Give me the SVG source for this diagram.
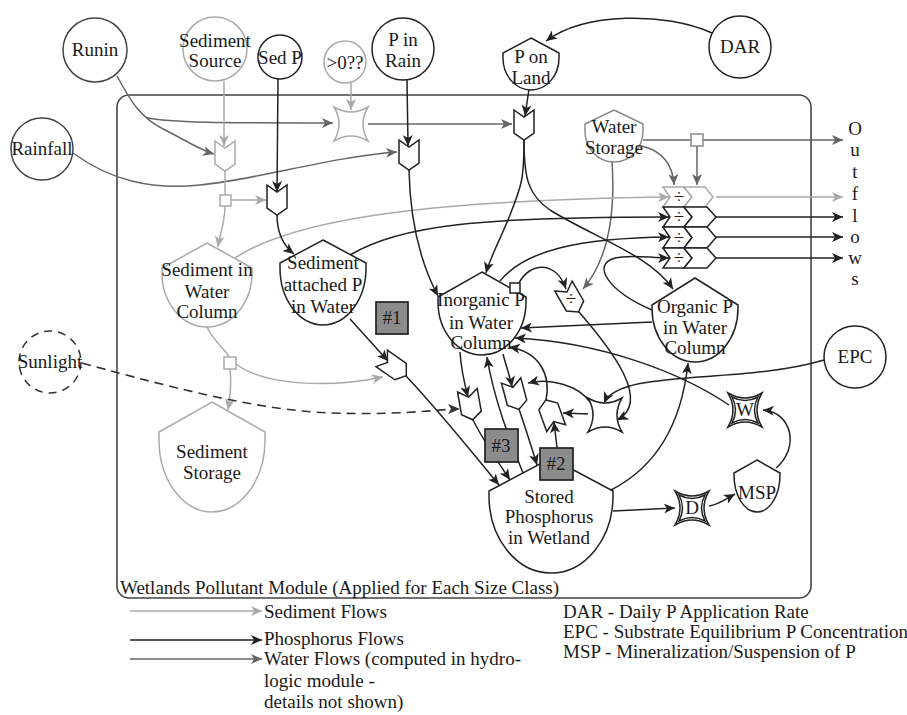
<svg xmlns="http://www.w3.org/2000/svg" width="907" height="715" viewBox="0 0 907 715">
<defs>
<style>
text{font-family:"Liberation Serif","Times New Roman",serif;font-size:19px;fill:#1a1a1a;text-anchor:middle}
.lg{text-anchor:start;font-size:19px}
.k{fill:none;stroke:#222;stroke-width:1.5}
.w{fill:none;stroke:#666;stroke-width:1.5}
.s{fill:none;stroke:#aaa;stroke-width:1.5}
.d{fill:none;stroke:#333;stroke-width:1.6;stroke-dasharray:9,6}
.nk{fill:#fff;stroke:#222;stroke-width:1.5}
.nd{fill:#fff;stroke:#444;stroke-width:1.5}
.ns{fill:#fff;stroke:#aaa;stroke-width:1.5}
.nw{fill:#fff;stroke:#888;stroke-width:1.5}
.box{fill:#8c8c8c;stroke:#222;stroke-width:1.7}
.ak{marker-end:url(#ak)}
.aw{marker-end:url(#aw)}
.as{marker-end:url(#as)}
</style>
<marker id="ak" markerWidth="12" markerHeight="10" refX="11" refY="5" orient="auto" markerUnits="userSpaceOnUse"><path d="M0,0 L11,5 L0,10 L3,5Z" fill="#222"/></marker>
<marker id="aw" markerWidth="12" markerHeight="10" refX="11" refY="5" orient="auto" markerUnits="userSpaceOnUse"><path d="M0,0 L11,5 L0,10 L3,5Z" fill="#666"/></marker>
<marker id="as" markerWidth="12" markerHeight="10" refX="11" refY="5" orient="auto" markerUnits="userSpaceOnUse"><path d="M0,0 L11,5 L0,10 L3,5Z" fill="#aaa"/></marker>
<polygon id="valve" points="-10,-15 0,-8 10,-15 10,8 0,15 -10,8"/>
<path id="star" d="M-17,-17 Q0,-7 17,-17 Q7,0 17,17 Q0,7 -17,17 Q-7,0 -17,-17Z"/>
<path id="star2" d="M-13,-13 Q0,-6 13,-13 Q6,0 13,13 Q0,6 -13,13 Q-6,0 -13,-13Z"/>
</defs>
<rect width="907" height="715" fill="#fff"/>

<g id="frame">
<rect x="117" y="95" width="694" height="503" rx="12" fill="none" stroke="#444" stroke-width="1.6"/>
<text class="lg" x="120" y="594">Wetlands Pollutant Module (Applied for Each Size Class)</text>
</g>

<g id="connectors">
<!-- water -->
<path class="w aw" d="M117,76 C130,100 140,118 165,130 C185,140 200,150 214,154"/>
<path class="w aw" d="M146,117.6 C170,123 220,123 333,123"/>
<path class="w aw" d="M368,124 L512,124"/>
<path class="w aw" d="M73,153 C110,180 150,190 200,185 C260,179 330,157 397,152"/>
<path class="w aw" d="M612,161 C616,220 606,262 583,289"/>
<path class="w aw" d="M643,140 L843,140"/>
<path class="w aw" d="M697,146 L697,185"/>
<path class="w aw" d="M641,146 C662,150 673,165 674,185"/>
<!-- sediment -->
<path class="s as" d="M224,81 L224,146"/>
<path class="s" d="M225,170 L225,195"/>
<path class="s as" d="M231,200 L266,200"/>
<path class="s as" d="M225,206 C225,222 220,234 218,247"/>
<path class="s as" d="M235,258 C300,215 450,200 669,197"/>
<path class="s" d="M207,327 C214,342 226,350 229,357"/>
<path class="s as" d="M230,369 C232,385 230,398 228,410"/>
<path class="s as" d="M236,364 C265,386 330,388 383,377"/>
<path class="s as" d="M351,83 L351,110"/>
<path class="s as" d="M716,197 L843,197"/>
<!-- phosphorus -->
<path class="k ak" d="M278,79 L277,192"/>
<path class="k ak" d="M407,80 L408,146"/>
<path class="k ak" d="M529,89 L525,116"/>
<path class="k ak" d="M712,33 C665,12 585,12 546,41"/>
<path class="k ak" d="M277,215 C277,235 284,246 294,254"/>
<path class="k ak" d="M409,170 C410,220 420,262 438,296"/>
<path class="k ak" d="M524,140 C524,178 522,185 510,215 C500,240 490,258 486,273"/>
<path class="k ak" d="M524,140 C524,178 528,195 550,210 C595,238 650,255 673,289"/>
<path class="k ak" d="M350,255 C400,225 480,217 669,217"/>
<path class="k ak" d="M500,281 C525,250 580,238 669,237"/>
<path class="k ak" d="M652,310 C610,292 590,265 615,258 C630,254 650,258 669,258"/>
<path class="k ak" d="M716,217 L843,217"/>
<path class="k ak" d="M716,237 L843,237"/>
<path class="k ak" d="M716,258 L843,258"/>
<path class="k ak" d="M519,283 C530,262 556,260 566,289"/>
<path class="k ak" d="M350,319 L388,361"/>
<path class="k ak" d="M406,376 C440,412 470,450 499,485"/>
<path class="k ak" d="M460,352 C461,368 464,382 468,397"/>
<path class="k ak" d="M473,420 C483,440 498,462 510,480"/>
<path class="k ak" d="M503,354 C506,366 510,376 512,387"/>
<path class="k ak" d="M519,409 C526,430 532,448 537,465"/>
<path class="k ak" d="M523,473 C510,440 494,400 487,357"/>
<path class="k ak" d="M558,458 C557,445 555,432 554,422"/>
<path class="k ak" d="M546,400 C551,375 540,352 509,347"/>
<path class="k ak" d="M590,402 C578,385 550,378 528,383"/>
<path class="k ak" d="M588,414 L563,413"/>
<path class="k ak" d="M824,360 C740,385 620,368 604,403"/>
<path class="k ak" d="M579,312 C612,350 652,402 617,420"/>
<path class="k ak" d="M652,322 L521,328"/>
<path class="k ak" d="M729,405 C680,372 600,342 515,338"/>
<path class="k ak" d="M776,468 C800,448 792,412 763,410"/>
<path class="k ak" d="M709,506 C718,505 726,499 735,494"/>
<path class="k ak" d="M613,511 L675,508"/>
<path class="k ak" d="M611,490 C660,465 682,420 688,363"/>
<!-- sunlight -->
<path class="d" d="M82,363 C180,390 260,410 330,413 C390,415 430,411 452,409"/>
<path d="M448,404 L460,409 L448,414 L451,409Z" fill="#333"/>
</g>

<g id="runin"><circle class="nd" cx="95" cy="50" r="32"/><text x="95" y="56">Runin</text></g>
<g id="sediment-source"><circle class="ns" cx="215" cy="49" r="32"/><text x="215" y="47">Sediment</text><text x="215" y="67">Source</text></g>
<g id="sed-p"><circle class="nk" cx="280" cy="57" r="22"/><text x="280" y="64">Sed P</text></g>
<g id="gt0"><circle class="ns" cx="345" cy="62" r="21"/><text x="345" y="69">&gt;0??</text></g>
<g id="p-in-rain"><circle class="nk" cx="403" cy="49" r="31"/><text x="403" y="46">P in</text><text x="403" y="67">Rain</text></g>
<g id="p-on-land"><path class="nk" d="M531,38 L559,53 L559,58 A28,32 0 0 1 503,58 L503,53Z"/><text x="531" y="63">P on</text><text x="531" y="84">Land</text></g>
<g id="dar"><circle class="nk" cx="740" cy="47" r="31"/><text x="740" y="53">DAR</text></g>
<g id="rainfall"><circle class="nd" cx="42" cy="149" r="31"/><text x="42" y="155">Rainfall</text></g>
<g id="sunlight"><circle fill="#fff" stroke="#333" stroke-width="1.5" stroke-dasharray="8,6" cx="50" cy="362" r="31"/><text x="50" y="368">Sunlight</text></g>
<g id="epc"><circle class="nk" cx="855" cy="357" r="31"/><text x="855" y="363">EPC</text></g>

<g id="valve-sediment"><use href="#valve" class="ns" transform="translate(225,156)"/></g>
<g id="sq-sediment"><rect class="ns" x="220" y="195" width="11" height="11"/></g>
<g id="valve-sedp"><use href="#valve" class="nk" transform="translate(277,200)"/></g>
<g id="valve-rain"><use href="#valve" class="nk" transform="translate(409,155)"/></g>
<g id="valve-land"><use href="#valve" class="nk" transform="translate(524,125)"/></g>
<g id="star-gt0"><use href="#star" class="ns" transform="translate(351,124)"/></g>

<g id="water-storage"><path class="nw" d="M614,110 L643,124 L643,131 A29,31 0 0 1 585,131 L585,124Z"/><text x="614" y="133">Water</text><text x="614" y="154">Storage</text></g>
<g id="sq-water"><rect class="nw" x="691" y="134" width="12" height="12"/></g>

<g id="divide-stack">
<path class="ns" d="M663,187 L684,187 L692,197 L684,207 L663,207 L670,197Z"/>
<path class="ns" d="M684,187 L705,187 L713,197 L705,207 L684,207 L692,197Z"/>
<path class="nk" d="M663,207 L684,207 L692,217 L684,227 L663,227 L670,217Z"/>
<path class="nk" d="M684,207 L707,207 L716,217 L707,227 L684,227 L692,217Z"/>
<path class="nk" d="M663,227 L684,227 L692,237.5 L684,248 L663,248 L670,237.5Z"/>
<path class="nk" d="M684,227 L707,227 L716,237.5 L707,248 L684,248 L692,237.5Z"/>
<path class="nk" d="M663,248 L684,248 L692,258 L684,268 L663,268 L670,258Z"/>
<path class="nk" d="M684,248 L707,248 L716,258 L707,268 L684,268 L692,258Z"/>
<text x="679" y="203">÷</text><text x="679" y="223">÷</text><text x="679" y="244">÷</text><text x="679" y="264">÷</text>
</g>

<g id="outflows">
<text x="855" y="135">O</text><text x="855" y="156">u</text><text x="855" y="178">t</text><text x="855" y="200">f</text><text x="855" y="222">l</text><text x="855" y="243">o</text><text x="855" y="264">w</text><text x="855" y="285">s</text>
</g>

<g id="sediment-wc"><path class="ns" d="M207,243 L252,268 L252,273 A45,54 0 0 1 162,273 L162,268Z"/><text x="207" y="276">Sediment in</text><text x="207" y="298">Water</text><text x="207" y="318">Column</text></g>
<g id="sq-sediment2"><rect class="ns" x="224" y="357" width="12" height="12"/></g>
<g id="sediment-storage"><path class="ns" d="M212,402 L265,432 L265,440 A53,72 0 0 1 159,440 L159,432Z"/><text x="212" y="458">Sediment</text><text x="212" y="479">Storage</text></g>

<g id="sed-attached-p"><path class="nk" d="M323,240 L366,263 L366,268 A43,57 0 0 1 280,268 L280,263Z"/><text x="323" y="269">Sediment</text><text x="323" y="291">attached P</text><text x="323" y="313">in Water</text></g>
<g id="inorganic-p"><path class="nk" d="M482,272 L526,297 L526,302 A44,53 0 0 1 438,302 L438,297Z"/><text x="481" y="306">Inorganic P</text><text x="481" y="329">in Water</text><text x="481" y="349">Column</text></g>
<g id="sq-inorganic"><rect class="nk" x="510" y="283" width="10" height="10"/></g>
<g id="divide-small"><use href="#valve" class="nk" transform="translate(571,299) rotate(-30)"/><text x="571" y="305">÷</text></g>
<g id="organic-p"><path class="nk" d="M695,278 L738,305 L738,308 A43,54 0 0 1 652,308 L652,305Z"/><text x="695" y="313">Organic P</text><text x="695" y="334">in Water</text><text x="695" y="354">Column</text></g>

<g id="valve-1"><use href="#valve" class="nk" transform="translate(394,367) rotate(-55)"/></g>
<g id="valve-a"><use href="#valve" class="nk" transform="translate(470,405) rotate(-10)"/></g>
<g id="valve-b"><use href="#valve" class="nk" transform="translate(515,395) rotate(-15)"/></g>
<g id="valve-c"><use href="#valve" class="nk" transform="translate(551,414) rotate(160)"/></g>
<g id="star-epc"><use href="#star" class="nk" transform="translate(605,415)"/></g>
<g id="star-w"><use href="#star" class="nk" transform="translate(745,410)"/><use href="#star2" class="nk" transform="translate(745,410)"/><text x="745" y="416" font-size="17">W</text></g>
<g id="star-d"><use href="#star" class="nk" transform="translate(692,508)"/><use href="#star2" class="nk" transform="translate(692,508)"/><text x="692" y="514" font-size="17">D</text></g>
<g id="msp"><path class="nk" d="M757,460 L780,473 L780,475 A23,37 0 0 1 734,475 L734,473Z"/><text x="757" y="499">MSP</text></g>

<g id="stored-p"><path class="nk" d="M551,458 L613,491 L613,496 A62,77 0 0 1 489,496 L489,491Z"/><text x="549" y="503">Stored</text><text x="549" y="523">Phosphorus</text><text x="549" y="544">in Wetland</text></g>

<g id="box-1"><rect class="box" x="376" y="302" width="32" height="32"/><text x="392" y="324">#1</text></g>
<g id="box-3"><rect class="box" x="485" y="429" width="33" height="33"/><text x="501" y="452">#3</text></g>
<g id="box-2"><rect class="box" x="540" y="448" width="33" height="32"/><text x="556" y="470">#2</text></g>

<g id="legend">
<path class="s as" d="M130,611 L262,611"/>
<path class="k ak" d="M130,640 L262,640"/>
<path class="w aw" d="M130,659 L262,659"/>
<text class="lg" x="264" y="618">Sediment Flows</text>
<text class="lg" x="264" y="645">Phosphorus Flows</text>
<text class="lg" x="264" y="665">Water Flows (computed in hydro-</text>
<text class="lg" x="264" y="687">logic module -</text>
<text class="lg" x="264" y="708">details not shown)</text>
<text class="lg" x="563" y="618">DAR - Daily P Application Rate</text>
<text class="lg" x="563" y="638">EPC - Substrate Equilibrium P Concentration</text>
<text class="lg" x="563" y="658">MSP - Mineralization/Suspension of P</text>
</g>
</svg>
